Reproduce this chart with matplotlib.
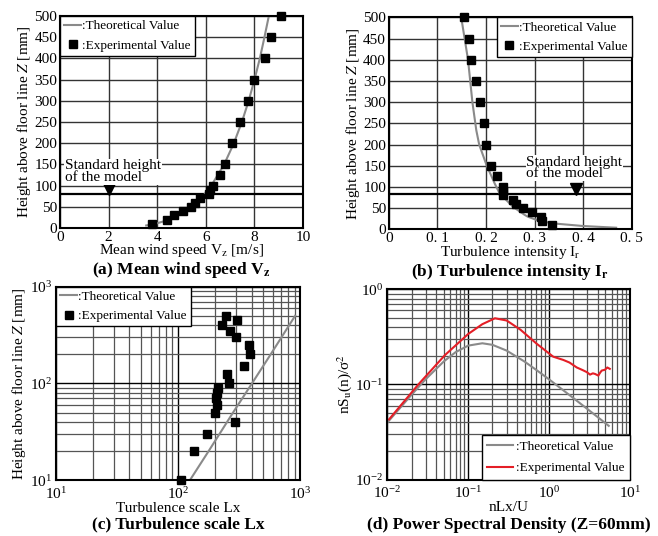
import matplotlib.pyplot as plt
from matplotlib.lines import Line2D

plt.rcParams['font.family'] = ['Liberation Serif', 'DejaVu Serif']
plt.rcParams['mathtext.fontset'] = 'stix'

# (a) mean wind speed
z_exp_a = [10, 20, 30, 40, 50, 60, 70, 80, 90, 100, 125, 150, 200, 250, 300, 350, 400, 450, 500]
v_exp_a = [3.78, 4.39, 4.68, 5.06, 5.39, 5.57, 5.76, 6.12, 6.19, 6.30, 6.57, 6.78, 7.10, 7.43, 7.73, 8.00, 8.45, 8.68, 9.09]
z_th_a = [6, 10, 20, 30, 50, 75, 100, 150, 200, 250, 300, 350, 400, 450, 500]
v_th_a = [3.55, 3.93, 4.52, 4.90, 5.43, 5.89, 6.23, 6.76, 7.16, 7.49, 7.77, 8.01, 8.23, 8.42, 8.60]

# (b) turbulence intensity
z_exp_b = [500, 450, 400, 350, 300, 250, 200, 150, 125, 100, 90, 80, 70, 60, 50, 40, 30, 20, 10]
i_exp_b = [0.154, 0.165, 0.169, 0.180, 0.187, 0.195, 0.201, 0.211, 0.222, 0.235, 0.235, 0.235,
           0.256, 0.262, 0.277, 0.294, 0.314, 0.315, 0.335]
z_th_b = [500, 400, 300, 234, 200, 152, 108, 85, 53, 34, 30, 20, 14, 8, 4]
i_th_b = [0.149, 0.163, 0.172, 0.180, 0.186, 0.201, 0.218, 0.228, 0.256, 0.280, 0.286, 0.310, 0.340, 0.400, 0.468]

# (c) turbulence scale
z_exp_c = [10, 20, 30, 40, 50, 60, 70, 80, 90, 100, 125, 150, 200, 250, 300, 350, 400, 450, 500]
lx_exp_c = [105, 134, 174, 293, 199, 209, 205, 210, 212, 262, 250, 344, 385, 378, 300, 267, 231, 303, 249]
z_th_c = [10, 20, 50, 100, 200, 500]
lx_th_c = [125, 178, 282, 403, 574, 910]

# (d) power spectral density
f_th = [0.01, 0.02, 0.03, 0.05, 0.07, 0.1, 0.15, 0.2, 0.3, 0.5, 0.7, 1.0, 1.5, 2.0, 3.0, 4.0, 5.5]
s_th = [0.0398, 0.0782, 0.114, 0.1746, 0.2185, 0.256, 0.271, 0.261, 0.227, 0.174, 0.142,
        0.1136, 0.0872, 0.0722, 0.0552, 0.0456, 0.0368]
f_exp = [0.0105, 0.0242, 0.0518, 0.1006, 0.15, 0.215, 0.3, 0.445, 0.706, 1.13, 1.51, 1.8, 2.21,
         2.6, 2.94, 3.23, 3.5, 3.73, 4.09, 4.3, 4.5, 4.95, 5.28, 5.67]
s_exp = [0.043, 0.100, 0.204, 0.340, 0.43, 0.496, 0.47, 0.376, 0.268, 0.196, 0.181, 0.17, 0.151,
         0.142, 0.135, 0.127, 0.131, 0.129, 0.124, 0.133, 0.140, 0.143, 0.151, 0.146]

GRAY = '#8a8a8a'
RED = '#e41e26'
TICK_FS = 11
LAB_FS = 11
TITLE_FS = 12.5

fig = plt.figure(figsize=(6.58, 5.36), dpi=100)
ax_a = fig.add_axes([0.0912, 0.5746, 0.369, 0.3955])
ax_b = fig.add_axes([0.591, 0.572, 0.369, 0.3955])
ax_c = fig.add_axes([0.0851, 0.1040, 0.371, 0.3611])
ax_d = fig.add_axes([0.5886, 0.1050, 0.3684, 0.3553])

for ax in (ax_a, ax_b, ax_c, ax_d):
    ax.tick_params(which='both', length=0, labelsize=TICK_FS, pad=2)
    for sp in ax.spines.values():
        sp.set_linewidth(1.5)
    ax.set_axisbelow(True)

# log panels: keep the corner labels apart
for ax in (ax_c, ax_d):
    ax.tick_params(axis='x', which='both', pad=4)
    ax.tick_params(axis='y', which='both', pad=3)

ylab = 'Height above floor line $\\it{Z}$ [mm]'


def legend_lin(ax, loc):
    handles = [Line2D([], [], color=GRAY, lw=1.5),
               Line2D([], [], color='black', marker='s', ls='none', ms=6)]
    lg = ax.legend(handles, [':Theoretical Value', ':Experimental Value'], loc=loc, fontsize=9.5,
                   frameon=True, fancybox=False, edgecolor='black', framealpha=1,
                   borderpad=0.3, handlelength=1.3, handletextpad=0.1, labelspacing=0.55,
                   borderaxespad=0)
    lg.get_frame().set_linewidth(1.0)


# (a)
ax_a.set_xlim(0, 10)
ax_a.set_ylim(0, 500)
ax_a.set_xticks(range(0, 11, 2))
ax_a.set_yticks(range(0, 501, 50))
ax_a.grid(True, color='#333333', lw=1.0)
ax_a.axhline(80, color='black', lw=1.6)
ax_a.plot(v_th_a, z_th_a, color=GRAY, lw=1.5)
ax_a.plot(v_exp_a, z_exp_a, 's', color='black', ms=6, clip_on=False, zorder=5)
ax_a.plot([2], [93], 'v', color='black', ms=9)
ax_a.text(0.2, 162, 'Standard height\nof the model', fontsize=11, va='top', ha='left',
          linespacing=0.85, bbox=dict(facecolor='white', edgecolor='none', pad=0.5))
ax_a.set_xlabel('Mean wind speed V$_\\mathrm{z}$ [m/s]', fontsize=LAB_FS, labelpad=-1)
ax_a.set_ylabel(ylab, fontsize=LAB_FS, labelpad=1)
legend_lin(ax_a, 'upper left')
ax_a.text(0.5, -0.2, '(a) Mean wind speed V$_\\mathbf{z}$', transform=ax_a.transAxes,
          ha='center', va='center', fontsize=TITLE_FS, fontweight='bold')

# (b)
ax_b.set_xlim(0, 0.5)
ax_b.set_ylim(0, 500)
ax_b.set_xticks([0, 0.1, 0.2, 0.3, 0.4, 0.5])
ax_b.set_xticklabels(['0', '0. 1', '0. 2', '0. 3', '0. 4', '0. 5'])
ax_b.set_yticks(range(0, 501, 50))
ax_b.grid(True, color='#333333', lw=1.0)
ax_b.axhline(83, color='black', lw=1.6)
ax_b.plot(i_th_b, z_th_b, color=GRAY, lw=1.5)
ax_b.plot(i_exp_b, z_exp_b, 's', color='black', ms=6, clip_on=False, zorder=5)
ax_b.plot([0.385], [95], 'v', color='black', ms=9)
ax_b.text(0.283, 174, 'Standard height\nof the model', fontsize=11, va='top', ha='left',
          linespacing=0.85, bbox=dict(facecolor='white', edgecolor='none', pad=0.5))
ax_b.set_xlabel('Turbulence intensity I$_\\mathrm{r}$', fontsize=LAB_FS, labelpad=-1)
ax_b.set_ylabel(ylab, fontsize=LAB_FS, labelpad=1)
legend_lin(ax_b, 'upper right')
ax_b.text(0.5, -0.2, '(b) Turbulence intensity I$_\\mathbf{r}$', transform=ax_b.transAxes,
          ha='center', va='center', fontsize=TITLE_FS, fontweight='bold')

# (c)
ax_c.set_xscale('log')
ax_c.set_yscale('log')
ax_c.set_xlim(10, 1000)
ax_c.set_ylim(10, 1000)
ax_c.grid(True, which='major', color='black', lw=1.0)
ax_c.grid(True, which='minor', color='#555555', lw=0.9)
ax_c.plot(lx_th_c, z_th_c, color=GRAY, lw=1.5)
ax_c.plot(lx_exp_c, z_exp_c, 's', color='black', ms=6, clip_on=False, zorder=5)
ax_c.set_xlabel('Turbulence scale Lx', fontsize=LAB_FS, labelpad=0)
ax_c.set_ylabel(ylab, fontsize=LAB_FS, labelpad=1)
legend_lin(ax_c, 'upper left')
fig.text(0.0851 + 0.371 / 2, 0.006, '(c) Turbulence scale Lx', ha='center', va='bottom',
         fontsize=TITLE_FS, fontweight='bold')

# (d)
ax_d.set_xscale('log')
ax_d.set_yscale('log')
ax_d.set_xlim(0.01, 10)
ax_d.set_ylim(0.01, 1)
ax_d.grid(True, which='major', color='black', lw=1.0)
ax_d.grid(True, which='minor', color='#555555', lw=0.9)
ax_d.plot(f_th, s_th, color=GRAY, lw=1.5, label=':Theoretical Value')
ax_d.plot(f_exp, s_exp, color=RED, lw=1.5, label=':Experimental Value')
ax_d.set_xlabel('nLx/U', fontsize=LAB_FS, labelpad=0)
ax_d.set_ylabel('nS$_\\mathrm{u}$(n)/σ$^2$', fontsize=LAB_FS, labelpad=1)
lg = ax_d.legend(loc='lower right', fontsize=9.5, frameon=True, fancybox=False, edgecolor='black',
                 framealpha=1, borderpad=0.4, handlelength=2.0, handletextpad=0.2,
                 labelspacing=0.7, borderaxespad=0)
lg.get_frame().set_linewidth(1.0)
fig.text(0.5886 + 0.3684 / 2, 0.006, '(d) Power Spectral Density (Z=60mm)', ha='center',
         va='bottom', fontsize=TITLE_FS, fontweight='bold')

fig.savefig('out.png', dpi=100)
